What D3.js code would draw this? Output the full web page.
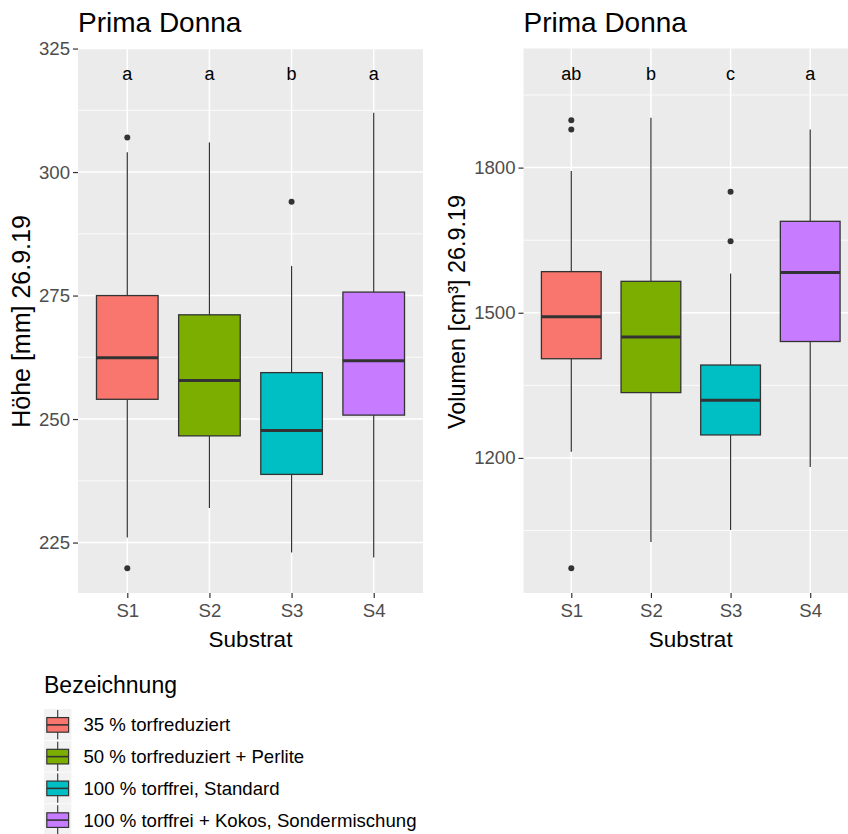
<!DOCTYPE html>
<html><head><meta charset="utf-8">
<script src="https://cdn.jsdelivr.net/npm/d3@7"></script>
<style>body{margin:0;background:#fff}svg{display:block}text{font-family:"Liberation Sans",Arial,sans-serif}</style>
</head><body>
<svg id="c" width="848" height="834"></svg>
<script>
const categories = ["S1","S2","S3","S4"];
const legendLabels = ["35 % torfreduziert","50 % torfreduziert + Perlite","100 % torffrei, Standard","100 % torffrei + Kokos, Sondermischung"];
const colors = ["#F8766D","#7CAE00","#00BFC4","#C77CFF"];

const hoeheLow  = [226, 232, 223, 222];
const hoeheQ1   = [254, 246.6, 238.8, 250.8];
const hoeheMed  = [262.4, 257.8, 247.7, 261.8];
const hoeheQ3   = [275, 271.1, 259.4, 275.7];
const hoeheHigh = [304, 306, 281, 312];
const hoeheOut  = [[307, 219.8], [], [294], []];
const hoeheLetters = ["a","a","b","a"];
const hoeheLetterY = 320;
const hoeheTicks = [225, 250, 275, 300, 325];
const hoeheMinor = [237.5, 262.5, 287.5, 312.5];

const volLow  = [1213, 1026, 1051, 1181];
const volQ1   = [1405, 1335, 1247.5, 1440.6];
const volMed  = [1492, 1450, 1319, 1583];
const volQ3   = [1585, 1565, 1392, 1689];
const volHigh = [1793, 1903, 1581, 1879];
const volOut  = [[1898, 1879, 972], [], [1750, 1648], []];
const volLetters = ["ab","b","c","a"];
const volLetterY = 1995;
const volTicks = [1200, 1500, 1800];
const volMinor = [1050, 1350, 1650, 1950];

const svg = d3.select("#c");

function panel(opt){
  const {x0,x1,y0,y1,low,q1,med,q3,high,out,letters,letterY,ticks,minor,ylabel,ylabelX,ylabelY,ylabelSize} = opt;
  const all = low.concat(high, out.flat(), [letterY]);
  const mn = d3.min(all), mx = d3.max(all), pad = (mx-mn)*0.05;
  const y = d3.scaleLinear().domain([mn-pad, mx+pad]).range([y1, y0]);
  const x = d3.scalePoint().domain(categories).range([x0, x1]).padding(0.6);
  const bw = x.step()*0.75;
  const g = svg.append("g");
  g.append("rect").attr("x",x0).attr("y",y0).attr("width",x1-x0).attr("height",y1-y0).attr("fill","#EBEBEB");
  g.selectAll(".mn").data(minor).join("line").attr("x1",x0).attr("x2",x1)
    .attr("y1",d=>y(d)).attr("y2",d=>y(d)).attr("stroke","#fff").attr("stroke-width",0.8);
  g.selectAll(".mj").data(ticks).join("line").attr("x1",x0).attr("x2",x1)
    .attr("y1",d=>y(d)).attr("y2",d=>y(d)).attr("stroke","#fff").attr("stroke-width",1.5);
  g.selectAll(".vx").data(categories).join("line").attr("x1",d=>x(d)).attr("x2",d=>x(d))
    .attr("y1",y0).attr("y2",y1).attr("stroke","#fff").attr("stroke-width",1.5);
  const ya = g.append("g").attr("transform",`translate(${x0},0)`)
    .call(d3.axisLeft(y).tickValues(ticks).tickFormat(d3.format("d")).tickSize(5).tickPadding(3));
  ya.select(".domain").remove();
  ya.selectAll("line").attr("stroke","#333").attr("stroke-width",1.2);
  ya.selectAll("text").attr("fill","#4D4D4D").style("font-size","18.6px");
  const xa = g.append("g").attr("transform",`translate(0,${y1})`).call(d3.axisBottom(x).tickSize(5).tickPadding(6));
  xa.select(".domain").remove();
  xa.selectAll("line").attr("stroke","#333").attr("stroke-width",1.2);
  xa.selectAll("text").attr("fill","#4D4D4D").style("font-size","18.6px");
  categories.forEach((c,i)=>{
    const cx = x(c);
    g.append("line").attr("x1",cx).attr("x2",cx).attr("y1",y(high[i])).attr("y2",y(q3[i])).attr("stroke","#333").attr("stroke-width",1.2);
    g.append("line").attr("x1",cx).attr("x2",cx).attr("y1",y(q1[i])).attr("y2",y(low[i])).attr("stroke","#333").attr("stroke-width",1.2);
    g.append("rect").attr("x",cx-bw/2).attr("y",y(q3[i])).attr("width",bw).attr("height",y(q1[i])-y(q3[i]))
      .attr("fill",colors[i]).attr("stroke","#333").attr("stroke-width",1.3);
    g.append("line").attr("x1",cx-bw/2).attr("x2",cx+bw/2).attr("y1",y(med[i])).attr("y2",y(med[i])).attr("stroke","#333").attr("stroke-width",3);
    g.selectAll(null).data(out[i]).join("circle").attr("cx",cx).attr("cy",d=>y(d)).attr("r",3).attr("fill","#333");
    g.append("text").attr("x",cx).attr("y",y(letterY)).attr("dy","0.35em").attr("text-anchor","middle")
      .style("font-size","18px").attr("fill","#000").text(letters[i]);
  });
  g.append("text").attr("x",x0).attr("y",32).style("font-size","28px").attr("fill","#000").text("Prima Donna");
  g.append("text").attr("x",(x0+x1)/2).attr("y",647).attr("text-anchor","middle").style("font-size","22.5px").attr("fill","#000").text("Substrat");
  g.append("text").attr("transform",`translate(${ylabelX},${ylabelY}) rotate(-90)`).attr("text-anchor","middle")
    .style("font-size",ylabelSize).attr("fill","#000").text(ylabel);
}

panel({x0:78,x1:423,y0:48.5,y1:593,low:hoeheLow,q1:hoeheQ1,med:hoeheMed,q3:hoeheQ3,high:hoeheHigh,out:hoeheOut,
  letters:hoeheLetters,letterY:hoeheLetterY,ticks:hoeheTicks,minor:hoeheMinor,ylabel:"Höhe [mm] 26.9.19",ylabelX:30,ylabelY:321.5,ylabelSize:"25px"});
panel({x0:523.5,x1:858,y0:48.5,y1:593,low:volLow,q1:volQ1,med:volMed,q3:volQ3,high:volHigh,out:volOut,
  letters:volLetters,letterY:volLetterY,ticks:volTicks,minor:volMinor,ylabel:"Volumen [cm³] 26.9.19",ylabelX:465,ylabelY:312,ylabelSize:"23.4px"});

const lg = svg.append("g");
lg.append("text").attr("x",44).attr("y",693).style("font-size","23px").attr("fill","#000").text("Bezeichnung");
const ky = d3.scaleBand().domain(legendLabels).range([709, 836]);
legendLabels.forEach((l,i)=>{
  const t = ky(l), h = ky.bandwidth(), cx = 44+13.7;
  lg.append("rect").attr("x",44).attr("y",t).attr("width",27.4).attr("height",h-0.8).attr("fill","#F2F2F2");
  lg.append("line").attr("x1",cx).attr("x2",cx).attr("y1",t+1).attr("y2",t+h-1.5).attr("stroke","#333").attr("stroke-width",1.1);
  lg.append("rect").attr("x",46.8).attr("y",t+h/2-7.3).attr("width",21.8).attr("height",14.6).attr("fill",colors[i]).attr("stroke","#333").attr("stroke-width",1.2);
  lg.append("line").attr("x1",46.8).attr("x2",68.6).attr("y1",t+h/2).attr("y2",t+h/2).attr("stroke","#333").attr("stroke-width",1.6);
  lg.append("text").attr("x",83.5).attr("y",t+h/2).attr("dy","0.35em").style("font-size","18.6px").attr("fill","#000").text(l);
});
</script>
</body></html>
